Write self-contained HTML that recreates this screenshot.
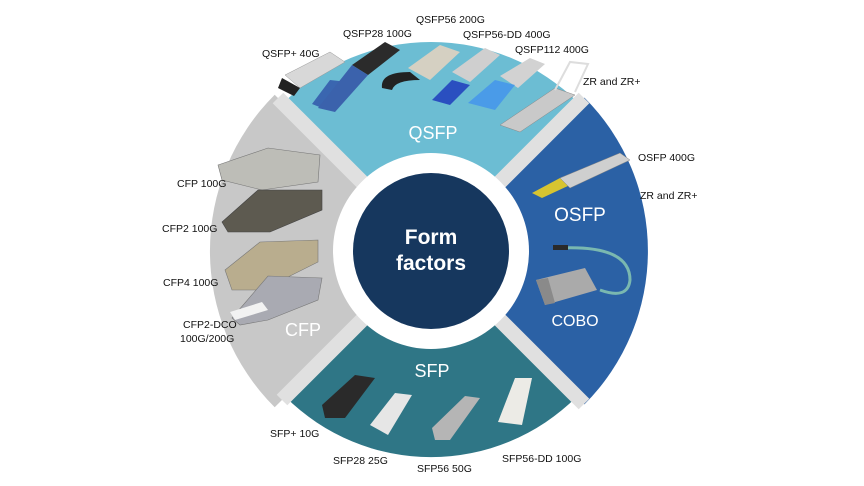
<!DOCTYPE html>
<html><head><meta charset="utf-8"><style>
html,body{margin:0;padding:0;background:#fff;}
svg{display:block;}
text{font-family:"Liberation Sans",sans-serif;}
.l{font-size:10.5px;fill:#111;}
.s{fill:#fff;}
</style></head><body>
<svg width="864" height="486" viewBox="0 0 864 486" xmlns="http://www.w3.org/2000/svg">
<rect width="864" height="486" fill="#fff"/>
<path d="M431 251 L283.2 103.2 A209 209 0 0 1 578.8 103.2 Z" fill="#6cbdd3"/>
<path d="M431 251 L584.4 97.6 A217 217 0 0 1 584.4 404.4 Z" fill="#2b61a5"/>
<path d="M431 251 L576.7 396.7 A206 206 0 0 1 285.3 396.7 Z" fill="#2f7686"/>
<path d="M431 251 L274.7 407.3 A221 221 0 0 1 274.7 94.7 Z" fill="#c8c8c8"/>
<g stroke="#e0e0e0" stroke-width="15">
<line x1="431" y1="251" x2="278" y2="98"/>
<line x1="431" y1="251" x2="584" y2="98"/>
<line x1="431" y1="251" x2="584" y2="404"/>
<line x1="431" y1="251" x2="282" y2="400"/>
</g>
<circle cx="431" cy="251" r="98" fill="#fff"/>
<circle cx="431" cy="251" r="78" fill="#16375e"/>
<text x="431" y="244" text-anchor="middle" font-size="21" font-weight="bold" fill="#fff">Form</text>
<text x="431" y="270" text-anchor="middle" font-size="21" font-weight="bold" fill="#fff">factors</text>

<g>
<polygon points="285,75 330,52 345,62 300,88" fill="#d8d8d8" stroke="#999" stroke-width="0.5"/>
<polygon points="282,78 300,88 294,96 278,88" fill="#222"/>
<polygon points="312,104 330,80 348,82 340,95 322,108" fill="#3a66b0"/>
<polygon points="352,65 385,42 400,50 368,75" fill="#2b2b2b"/>
<polygon points="318,108 352,65 368,75 335,112" fill="#3b62ac"/>
<polygon points="408,68 440,45 460,52 430,80" fill="#d5d0c2"/>
<path d="M382 88 Q380 72 410 72 L420 80 Q395 80 392 90 Z" fill="#222"/>
<polygon points="452,72 485,48 500,55 470,82" fill="#cfcfcf"/>
<polygon points="432,100 452,80 470,85 450,105" fill="#2a4fc0"/>
<polygon points="500,76 530,58 545,64 518,88" fill="#d2d2d2"/>
<polygon points="468,103 495,80 515,85 495,110" fill="#4a9be8"/>
<polygon points="500,125 555,88 575,95 520,132" fill="#c9c9c9" stroke="#888" stroke-width="0.5"/>
<path d="M555 90 L570 62 L588 64 L575 92" fill="none" stroke="#ddd" stroke-width="2"/>
</g>
<text class="l" x="262" y="57">QSFP+ 40G</text>
<text class="l" x="343" y="37">QSFP28 100G</text>
<text class="l" x="416" y="23">QSFP56 200G</text>
<text class="l" x="463" y="38">QSFP56-DD 400G</text>
<text class="l" x="515" y="53">QSFP112 400G</text>
<text class="l" x="583" y="85">ZR and ZR+</text>
<text class="s" x="433" y="139" text-anchor="middle" font-size="18">QSFP</text>

<polygon points="532,193 560,178 570,185 542,198" fill="#d7c430"/>
<polygon points="560,178 620,153 630,160 570,188" fill="#cfcfcf" stroke="#888" stroke-width="0.5"/>
<polygon points="536,280 585,268 597,290 545,305" fill="#aaaaaa"/>
<polygon points="536,280 548,278 555,303 545,305" fill="#8a8a8a"/>
<path d="M560 248 Q630 245 630 280 Q628 300 600 290" fill="none" stroke="#7ab8b0" stroke-width="3"/>
<rect x="553" y="245" width="15" height="5" fill="#2a2a2a"/>
<text class="l" x="638" y="161">OSFP 400G</text>
<text class="l" x="640" y="199">ZR and ZR+</text>
<text class="s" x="580" y="221" text-anchor="middle" font-size="19">OSFP</text>
<text class="s" x="575" y="326" text-anchor="middle" font-size="16">COBO</text>

<polygon points="218,165 268,148 320,155 318,182 262,190 222,180" fill="#bdbdb7" stroke="#777" stroke-width="0.6"/>
<polygon points="222,222 258,190 322,190 322,210 270,232 228,232" fill="#5d5a50" stroke="#444" stroke-width="0.6"/>
<polygon points="225,270 260,242 318,240 318,262 262,290 232,290" fill="#b9ad8e" stroke="#777" stroke-width="0.6"/>
<polygon points="232,318 268,276 322,278 318,300 268,320 240,325" fill="#a9aab2" stroke="#777" stroke-width="0.6"/>
<polygon points="230,312 262,302 268,310 235,320" fill="#f2f2f2"/>
<text class="l" x="177" y="187">CFP 100G</text>
<text class="l" x="162" y="232">CFP2 100G</text>
<text class="l" x="163" y="286">CFP4 100G</text>
<text class="l" x="183" y="328">CFP2-DCO</text>
<text class="l" x="180" y="342">100G/200G</text>
<text class="s" x="303" y="336" text-anchor="middle" font-size="18">CFP</text>

<polygon points="322,405 355,375 375,378 345,418 325,418" fill="#2a2a2a"/>
<polygon points="370,425 395,393 412,395 388,435" fill="#e6e6e6"/>
<polygon points="432,428 465,396 480,398 450,440 435,440" fill="#b5b5b5"/>
<polygon points="498,422 515,378 532,378 522,425" fill="#ecebe6"/>
<text class="l" x="270" y="437">SFP+ 10G</text>
<text class="l" x="333" y="464">SFP28 25G</text>
<text class="l" x="417" y="472">SFP56 50G</text>
<text class="l" x="502" y="462">SFP56-DD 100G</text>
<text class="s" x="432" y="377" text-anchor="middle" font-size="18">SFP</text>
</svg>
</body></html>
